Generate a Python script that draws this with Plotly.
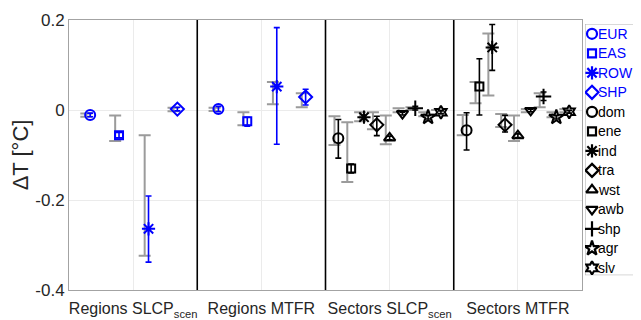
import plotly.graph_objects as go

# ---------------- data ----------------
group_labels = ["Regions SLCP<sub>scen</sub>", "Regions MTFR",
                "Sectors SLCP<sub>scen</sub>", "Sectors MTFR"]
region_names = ["EUR", "EAS", "ROW", "SHP"]
sector_names = ["dom", "ene", "ind", "tra", "wst", "awb", "shp", "agr", "slv"]

region_symbols = ["circle-open", "square-open", "asterisk-open", "diamond-open"]
sector_symbols = ["circle-open", "square-open", "asterisk-open", "diamond-open",
                  "triangle-up-open", "triangle-down-open", "cross-thin-open",
                  "star-open", "hexagram-open"]

# Regions SLCP_scen
reg_slcp_mean = [-0.011, -0.056, -0.264, 0.002]
reg_slcp_lo = [-0.015, -0.062, -0.338, -0.002]
reg_slcp_hi = [-0.007, -0.050, -0.191, 0.006]
reg_slcp_gray_lo = [-0.015, -0.069, -0.324, -0.003]
reg_slcp_gray_hi = [-0.008, -0.012, -0.056, 0.005]

# Regions MTFR
reg_mtfr_mean = [0.002, -0.025, 0.052, 0.029]
reg_mtfr_lo = [-0.004, -0.036, -0.076, 0.011]
reg_mtfr_hi = [0.008, -0.016, 0.183, 0.046]
reg_mtfr_gray_lo = [-0.002, -0.034, 0.013, 0.006]
reg_mtfr_gray_hi = [0.005, -0.005, 0.062, 0.037]

# Sectors SLCP_scen
sec_slcp_mean = [-0.063, -0.130, -0.016, -0.033, -0.062, -0.008, 0.004, -0.016, -0.005]
sec_slcp_lo = [-0.107, -0.140, -0.021, -0.057, -0.066, -0.011, 0.000, -0.020, -0.008]
sec_slcp_hi = [-0.021, -0.120, -0.011, -0.014, -0.058, -0.005, 0.008, -0.012, -0.002]
sec_slcp_gray_lo = [-0.078, -0.160, -0.025, -0.043, -0.076, -0.005, 0.000, -0.014, -0.010]
sec_slcp_gray_hi = [-0.014, -0.027, -0.005, -0.005, -0.012, 0.004, 0.006, -0.005, 0.000]

# Sectors MTFR
sec_mtfr_mean = [-0.045, 0.052, 0.139, -0.033, -0.057, -0.001, 0.030, -0.016, -0.004]
sec_mtfr_lo = [-0.089, -0.011, 0.088, -0.049, -0.061, -0.004, 0.021, -0.020, -0.007]
sec_mtfr_hi = [-0.006, 0.114, 0.190, -0.012, -0.053, 0.002, 0.040, -0.012, -0.001]
sec_mtfr_gray_lo = [-0.056, 0.015, 0.032, -0.038, -0.069, -0.005, 0.006, -0.016, -0.005]
sec_mtfr_gray_hi = [-0.011, 0.062, 0.170, -0.009, -0.012, 0.002, 0.037, -0.005, 0.002]

y_ticks = [-0.4, -0.2, 0, 0.2]
y_tick_text = ["-0.4", "-0.2", "0", "0.2"]

# ---------------- style ----------------
BLUE = "#0000ff"
BLACK = "#000000"
GRAY = "#9b9b9b"
TEXT = "#262626"
FONT = "Liberation Sans, Arial, sans-serif"

region_offsets = [0.165, 0.39, 0.62, 0.845]
sector_offsets = [0.1 * (i + 1) for i in range(9)]
gray_shift = -0.03
marker_sizes = {"circle-open": 10, "square-open": 8, "asterisk-open": 11,
                "diamond-open": 10, "triangle-up-open": 10,
                "triangle-down-open": 10, "cross-thin-open": 11,
                "star-open": 11, "hexagram-open": 10}

fig = go.Figure()

groups = [
    (0, region_offsets, reg_slcp_mean, reg_slcp_lo, reg_slcp_hi, reg_slcp_gray_lo, reg_slcp_gray_hi, region_symbols, BLUE),
    (1, region_offsets, reg_mtfr_mean, reg_mtfr_lo, reg_mtfr_hi, reg_mtfr_gray_lo, reg_mtfr_gray_hi, region_symbols, BLUE),
    (2, sector_offsets, sec_slcp_mean, sec_slcp_lo, sec_slcp_hi, sec_slcp_gray_lo, sec_slcp_gray_hi, sector_symbols, BLACK),
    (3, sector_offsets, sec_mtfr_mean, sec_mtfr_lo, sec_mtfr_hi, sec_mtfr_gray_lo, sec_mtfr_gray_hi, sector_symbols, BLACK),
]

# gray bars first
for g, offs, mean, lo, hi, glo, ghi, syms, col in groups:
    xs = [g + o + gray_shift for o in offs]
    mid = [(a + b) / 2 for a, b in zip(glo, ghi)]
    fig.add_trace(go.Scatter(
        x=xs, y=mid, mode="markers",
        marker=dict(size=1, color="rgba(0,0,0,0)"),
        error_y=dict(type="data", symmetric=False,
                     array=[b - m for b, m in zip(ghi, mid)],
                     arrayminus=[m - a for a, m in zip(glo, mid)],
                     color=GRAY, thickness=2, width=6),
        showlegend=False, hoverinfo="skip"))

# colored marker + error bars
for g, offs, mean, lo, hi, glo, ghi, syms, col in groups:
    for i, (o, m, a, b, s) in enumerate(zip(offs, mean, lo, hi, syms)):
        fig.add_trace(go.Scatter(
            x=[g + o], y=[m], mode="markers",
            marker=dict(symbol=s, size=marker_sizes[s], color=col,
                        line=dict(color=col, width=2)),
            error_y=dict(type="data", symmetric=False,
                         array=[b - m], arrayminus=[m - a],
                         color=col, thickness=1.6, width=3),
            showlegend=False))

# separators
shapes = []
for xv in [1, 2, 3]:
    shapes.append(dict(type="line", xref="x", yref="y domain", x0=xv, x1=xv,
                       y0=0, y1=1, line=dict(color=BLACK, width=1.6)))

# The page body adds an 8px margin, so the figure is laid out in
# figure pixels = page pixels - 8.
OFF = 8
W, H = 641 - OFF, 320 - OFF
L, R, T, B = 69 - OFF, 0, 20 - OFF, 26
plot_w = W - L - R
plot_h = H - T - B
main_right = 582 - OFF
leg_x0, leg_x1 = 585 - OFF, 640 - OFF
leg_y0, leg_y1 = 24 - OFF, 279 - OFF

# custom legend (pixel-like coordinates on auxiliary axes)
leg_names = region_names + sector_names
leg_syms = region_symbols + sector_symbols
leg_cols = [BLUE] * 4 + [BLACK] * 9
leg_y = [leg_y0 + 10 + 19.8 * i for i in range(len(leg_names))]
for n, s, c, yy in zip(leg_names, leg_syms, leg_cols, leg_y):
    fig.add_trace(go.Scatter(
        x=[leg_x0 + 7], y=[yy], mode="markers", xaxis="x2", yaxis="y2",
        marker=dict(symbol=s, size=marker_sizes[s], color=c, line=dict(color=c, width=2.2)),
        showlegend=False, hoverinfo="skip"))
annotations = []
for n, c, yy in zip(leg_names, leg_cols, leg_y):
    annotations.append(dict(x=leg_x0 + 11, y=yy, xref="x2", yref="y2", text=n,
                            showarrow=False, xanchor="left", yanchor="middle",
                            font=dict(family=FONT, size=14, color=c)))
shapes.append(dict(type="rect", xref="x2", yref="y2", x0=leg_x0, x1=leg_x1,
                   y0=leg_y0, y1=leg_y1,
                   line=dict(color="#a8a8a8", width=1), fillcolor="white", layer="below"))

fig.update_layout(
    width=W, height=H,
    margin=dict(l=L, r=R, t=T, b=B, pad=0),
    plot_bgcolor="white", paper_bgcolor="white",
    font=dict(family=FONT, color=TEXT, size=16),
    shapes=shapes, annotations=annotations,
    xaxis=dict(domain=[0, (main_right - L) / plot_w], range=[0, 4],
               tickvals=[0.5, 1.5, 2.5, 3.5], ticktext=group_labels,
               showgrid=True, gridcolor="#ebebeb", gridwidth=1,
               showline=True, mirror=True, linecolor="#a3a3a3", linewidth=1,
               ticks="", zeroline=False, tickfont=dict(size=16, color=TEXT),
               ticklabelstandoff=4, fixedrange=True),
    yaxis=dict(range=[-0.4, 0.2], tickvals=y_ticks, ticktext=y_tick_text,
               showgrid=True, gridcolor="#ebebeb", gridwidth=1,
               showline=True, mirror=True, linecolor="#a3a3a3", linewidth=1,
               ticks="", zeroline=False, tickfont=dict(size=17, color=TEXT),
               title=dict(text="ΔT [°C]", font=dict(size=22, color=TEXT), standoff=10),
               automargin=False),
    xaxis2=dict(domain=[(leg_x0 - L) / plot_w, (leg_x1 - L) / plot_w],
                range=[leg_x0, leg_x1], visible=False, anchor="y2", fixedrange=True),
    yaxis2=dict(domain=[(H - B - leg_y1) / plot_h, (H - B - leg_y0) / plot_h],
                range=[leg_y1, leg_y0], visible=False, anchor="x2", fixedrange=True),
)

fig.write_html("out.html")
